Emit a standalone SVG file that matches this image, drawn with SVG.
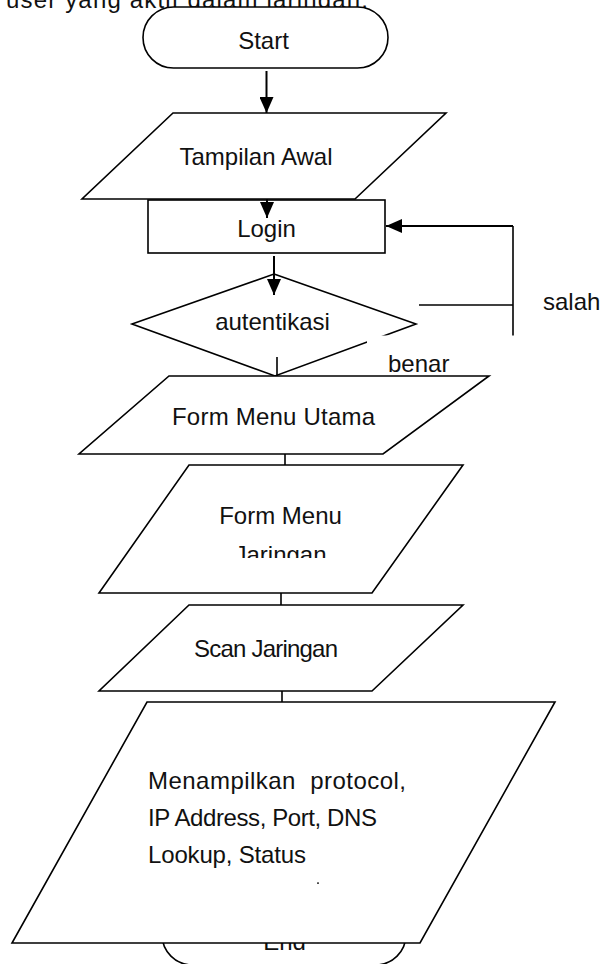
<svg xmlns="http://www.w3.org/2000/svg" width="601" height="964" viewBox="0 0 601 964">
  <style>
    text { font-family: "Liberation Sans", Arial, sans-serif; font-size: 24px; fill: #111; }
    .mid { text-anchor: middle; }
    .shape { fill: #fff; stroke: #000; stroke-width: 1.6; }
    .edge { fill: none; stroke: #000; stroke-width: 2; }
    .thin { fill: none; stroke: #000; stroke-width: 1.6; }
  </style>
  <defs>
    <marker id="arrow" viewBox="0 0 16 14" refX="16" refY="7" markerWidth="16" markerHeight="14" markerUnits="userSpaceOnUse" orient="auto">
      <path d="M0,0 L16,7 L0,14 z" fill="#000"/>
    </marker>
    <clipPath id="clipJaringan">
      <rect x="180" y="530" width="200" height="28"/>
    </clipPath>
  </defs>

  <!-- paragraph line running above the chart -->
  <text x="6" y="7.5" textLength="362" font-size="25">user yang aktif dalam jaringan,</text>

  <!-- terminal: Start -->
  <g id="start">
    <rect class="shape" x="143" y="7" width="245" height="61" rx="30.5" ry="30.5"/>
    <text class="mid" x="263.5" y="49">Start</text>
  </g>

  <!-- terminal: End (partly hidden behind the output shape) -->
  <g id="end">
    <rect class="shape" x="162" y="904" width="244" height="61" rx="30.5" ry="30.5"/>
    <text class="mid" x="284.5" y="950">End</text>
  </g>

  <g id="tampilan-awal">
    <polygon class="shape" points="173,113 446,113 355,199 82,199"/>
    <text class="mid" x="256" y="165">Tampilan Awal</text>
  </g>

  <g id="login">
    <rect class="shape" x="148" y="200" width="237" height="53"/>
    <text class="mid" x="266.5" y="237">Login</text>
  </g>

  <g id="autentikasi">
    <polygon class="shape" points="274,274 416,324 275,376 132,324"/>
    <text class="mid" x="272.5" y="330">autentikasi</text>
  </g>

  <!-- connectors -->
  <g id="connectors">
    <line class="edge" x1="266.5" y1="71" x2="266.5" y2="113" marker-end="url(#arrow)"/>
    <line class="edge" x1="267" y1="199" x2="267" y2="218" marker-end="url(#arrow)"/>
    <line class="edge" x1="274" y1="256" x2="274" y2="295" marker-end="url(#arrow)"/>
    <line class="thin" x1="277" y1="357" x2="277" y2="376"/>
    <!-- "salah" loop back to Login -->
    <line class="thin" x1="419" y1="305" x2="513" y2="305"/>
    <line class="thin" x1="513" y1="226" x2="513" y2="336"/>
    <line class="edge" x1="513" y1="226" x2="386" y2="226" marker-end="url(#arrow)"/>
    <line class="thin" x1="285" y1="454" x2="285" y2="465"/>
    <line class="thin" x1="281" y1="593" x2="281" y2="605"/>
    <line class="thin" x1="282" y1="691" x2="282" y2="702"/>
  </g>

  <!-- label box "benar" (white background) -->
  <g id="label-benar">
    <rect x="367" y="335.5" width="160" height="39" fill="#fff"/>
    <text x="388" y="372">benar</text>
  </g>

  <g id="label-salah">
    <text x="543" y="310">salah</text>
  </g>

  <g id="form-menu-utama">
    <polygon class="shape" points="169,376 489,376 383,454 79,454"/>
    <text class="mid" x="273.5" y="425" textLength="203">Form Menu Utama</text>
  </g>

  <g id="form-menu-jaringan">
    <polygon class="shape" points="189,465 463,465 372,593 99,593"/>
    <text class="mid" x="280.5" y="524">Form Menu</text>
    <text class="mid" x="280.5" y="563" clip-path="url(#clipJaringan)">Jaringan</text>
  </g>

  <g id="scan-jaringan">
    <polygon class="shape" points="189,605 463,605 372,691 99,691"/>
    <text class="mid" x="266" y="657" textLength="144">Scan Jaringan</text>
  </g>

  <g id="menampilkan">
    <polygon class="shape" points="147,702 555,702 420,943 12,943"/>
    <text x="148" y="789" textLength="258" xml:space="preserve">Menampilkan  protocol,</text>
    <text x="148" y="826" textLength="229">IP Address, Port, DNS</text>
    <text x="148" y="863" textLength="158">Lookup, Status</text>
    <rect x="317" y="882.5" width="2" height="1.2" fill="#000"/>
  </g>
</svg>
